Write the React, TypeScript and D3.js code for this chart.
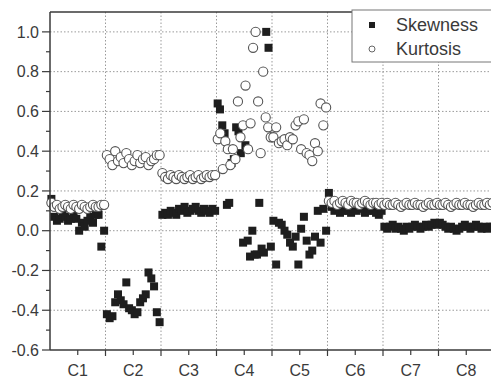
import React from "react";
import * as d3 from "d3";

// Category labels along the x axis (one band per cluster)
const clusterLabels = ["C1", "C2", "C3", "C4", "C5", "C6", "C7", "C8"];

// Y axis ticks and their printed labels
const yTickValues = [-0.6, -0.4, -0.2, 0.0, 0.2, 0.4, 0.6, 0.8, 1.0];
const yTickLabels = ["-0.6", "-0.4", "-0.2", "0.0", "0.2", "0.4", "0.6", "0.8", "1.0"];
const yMinorTicks = [-0.5, -0.3, -0.1, 0.1, 0.3, 0.5, 0.7, 0.9];

// Skewness per sample, grouped by cluster (samples spaced evenly inside each band)
const skewC1 = [0.16, 0.07, 0.05, 0.06, 0.08, 0.07, 0.05, 0.06, 0.08, 0.06, 0.0, 0.04, 0.02, 0.05, 0.07, 0.04, 0.08, 0.08, -0.08, 0.0];
const skewC2 = [-0.42, -0.44, -0.43, -0.36, -0.32, -0.35, -0.37, -0.26, -0.39, -0.4, -0.42, -0.41, -0.36, -0.34, -0.32, -0.21, -0.24, -0.28, -0.41, -0.46];
const skewC3 = [0.08, 0.09, 0.08, 0.1, 0.09, 0.08, 0.11, 0.1, 0.12, 0.09, 0.1, 0.11, 0.12, 0.1, 0.09, 0.11, 0.1, 0.09, 0.11, 0.1];
const skewC4 = [0.64, 0.61, 0.53, 0.49, 0.13, 0.14, 0.34, 0.36, 0.52, 0.5, 0.39, -0.06, 0.43, -0.05, -0.13, 0.0, -0.12, -0.12, 0.14, -0.09, -0.11, 1.0, 0.92, -0.08];
const skewC5 = [0.05, -0.17, 0.04, 0.03, 0.0, -0.02, -0.06, -0.08, -0.03, -0.17, 0.01, 0.07, -0.05, -0.12, -0.1, -0.03, 0.1, -0.06, 0.11, 0.0];
const skewC6 = [0.19, 0.12, 0.1, 0.11, 0.09, 0.1, 0.12, 0.1, 0.09, 0.11, 0.1, 0.12, 0.11, 0.09, 0.1, 0.11, 0.1, 0.09, 0.08, 0.1];
const skewC7 = [0.02, 0.01, 0.02, 0.03, 0.01, 0.02, 0.01, 0.0, 0.02, 0.01, 0.02, 0.03, 0.02, 0.01, 0.02, 0.03, 0.02, 0.03, 0.04, 0.03];
const skewC8 = [0.04, 0.03, 0.02, 0.01, 0.02, 0.01, 0.0, 0.01, 0.02, 0.03, 0.02, 0.01, 0.02, 0.03, 0.02, 0.01, 0.02, 0.01, 0.02, 0.02];

// Kurtosis per sample, grouped by cluster
const kurtC1 = [0.14, 0.12, 0.13, 0.11, 0.12, 0.13, 0.12, 0.11, 0.13, 0.12, 0.11, 0.13, 0.12, 0.11, 0.12, 0.13, 0.12, 0.12, 0.13, 0.13];
const kurtC2 = [0.38, 0.36, 0.33, 0.4, 0.35, 0.37, 0.34, 0.39, 0.36, 0.33, 0.35, 0.38, 0.34, 0.36, 0.37, 0.33, 0.35, 0.36, 0.38, 0.38];
const kurtC3 = [0.29, 0.27, 0.26, 0.28, 0.27, 0.26, 0.28, 0.27, 0.26, 0.27, 0.28, 0.26, 0.27, 0.28, 0.26, 0.27, 0.28, 0.27, 0.28, 0.28];
const kurtC4 = [0.46, 0.49, 0.31, 0.45, 0.41, 0.33, 0.41, 0.36, 0.65, 0.47, 0.53, 0.73, 0.41, 0.54, 0.92, 1.0, 0.65, 0.39, 0.8, 0.57, 0.52, 0.47];
const kurtC5 = [0.47, 0.52, 0.44, 0.45, 0.46, 0.43, 0.47, 0.46, 0.53, 0.55, 0.41, 0.56, 0.39, 0.38, 0.35, 0.44, 0.4, 0.64, 0.53, 0.62];
const kurtC6 = [0.15, 0.14, 0.15, 0.13, 0.14, 0.15, 0.14, 0.13, 0.15, 0.14, 0.14, 0.13, 0.14, 0.15, 0.14, 0.13, 0.14, 0.14, 0.13, 0.14];
const kurtC7 = [0.13, 0.14, 0.13, 0.13, 0.14, 0.13, 0.12, 0.13, 0.14, 0.13, 0.13, 0.14, 0.13, 0.13, 0.12, 0.13, 0.14, 0.13, 0.13, 0.14];
const kurtC8 = [0.13, 0.13, 0.14, 0.13, 0.12, 0.13, 0.14, 0.13, 0.13, 0.14, 0.13, 0.13, 0.12, 0.13, 0.14, 0.13, 0.13, 0.14, 0.13, 0.14];

const skewness = [skewC1, skewC2, skewC3, skewC4, skewC5, skewC6, skewC7, skewC8];
const kurtosis = [kurtC1, kurtC2, kurtC3, kurtC4, kurtC5, kurtC6, kurtC7, kurtC8];

const W = 491;
const H = 378;
const FONT = "'Liberation Sans', Arial, Helvetica, sans-serif";
const INK = "#3a3a3a";
const GRID = "#9a9a9a";

type Pt = { x: number; y: number };

function flatten(groups: number[][]): Pt[] {
  const out: Pt[] = [];
  groups.forEach((vals, c) => {
    vals.forEach((v, j) => out.push({ x: c + (j + 0.5) / vals.length, y: v }));
  });
  return out;
}

export default function App() {
  const x = d3.scaleLinear().domain([0, 8]).range([50, 494]);
  const y = d3.scaleLinear().domain([-0.6, 1.1]).range([350, 12]);

  const skewPts = flatten(skewness);
  const kurtPts = flatten(kurtosis);

  const [x0, x1] = x.range();
  const yBottom = y(-0.6);
  const yTop = y(1.1);
  const boundaries = d3.range(1, 8);
  const centers = d3.range(0, 8).map((i) => i + 0.5);
  const sq = 8;

  return (
    <svg width={W} height={H} style={{ position: "absolute", left: 0, top: 0, background: "#fff" }}>
      <rect x={0} y={0} width={W} height={H} fill="#fff" />
      {/* grid */}
      <g stroke={GRID} strokeWidth={1} strokeDasharray="1.5,2">
        {yTickValues.slice(1).map((v) => (
          <line key={"gy" + v} x1={x0} x2={x1} y1={y(v)} y2={y(v)} />
        ))}
        {boundaries.map((b) => (
          <line key={"gx" + b} x1={x(b)} x2={x(b)} y1={yTop} y2={yBottom} />
        ))}
      </g>

      {/* skewness: filled squares */}
      <g fill="#1e1e1e">
        {skewPts.map((p, i) => (
          <rect key={"s" + i} x={x(p.x) - sq / 2} y={y(p.y) - sq / 2} width={sq} height={sq} />
        ))}
      </g>

      {/* kurtosis: open circles */}
      <g fill="#fff" stroke="#555" strokeWidth={1.1}>
        {kurtPts.map((p, i) => (
          <circle key={"k" + i} cx={x(p.x)} cy={y(p.y)} r={4.6} />
        ))}
      </g>

      {/* frame */}
      <g stroke={INK} strokeWidth={1.5} fill="none">
        <line x1={x0} x2={x0} y1={yTop} y2={yBottom} />
        <line x1={x0} x2={x1} y1={yBottom} y2={yBottom} />
        <line x1={x0} x2={x1} y1={yTop} y2={yTop} />
      </g>

      {/* y axis ticks and labels */}
      <g stroke={INK} strokeWidth={1.2}>
        {yTickValues.map((v) => (
          <line key={"ty" + v} x1={x0 - 8} x2={x0} y1={y(v)} y2={y(v)} />
        ))}
        {yMinorTicks.map((v) => (
          <line key={"my" + v} x1={x0 - 4} x2={x0} y1={y(v)} y2={y(v)} />
        ))}
      </g>
      <g fill={INK} fontFamily={FONT} fontSize={16} textAnchor="end">
        {yTickValues.map((v, i) => (
          <text key={"ly" + v} x={x0 - 11} y={y(v)} dy="0.36em">
            {yTickLabels[i]}
          </text>
        ))}
      </g>

      {/* x axis ticks and labels */}
      <g stroke={INK} strokeWidth={1.2}>
        {boundaries.map((b) => (
          <line key={"tx" + b} x1={x(b)} x2={x(b)} y1={yBottom} y2={yBottom + 6} />
        ))}
        {centers.map((c) => (
          <line key={"mx" + c} x1={x(c)} x2={x(c)} y1={yBottom} y2={yBottom + 5} />
        ))}
      </g>
      <g fill={INK} fontFamily={FONT} fontSize={16} textAnchor="middle">
        {clusterLabels.map((lab, i) => (
          <text key={lab} x={x(centers[i])} y={376}>
            {lab}
          </text>
        ))}
      </g>

      {/* legend */}
      <g>
        <rect x={352} y={yTop - 2} width={150} height={52} fill="#fff" stroke="#777" strokeWidth={1} />
        <rect x={369} y={22} width={6} height={6} fill="#1e1e1e" />
        <circle cx={372} cy={49} r={3} fill="#fff" stroke="#666" strokeWidth={1} />
        <g fill={INK} fontFamily={FONT} fontSize={18}>
          <text x={396} y={31}>Skewness</text>
          <text x={396} y={55}>Kurtosis</text>
        </g>
      </g>
    </svg>
  );
}
